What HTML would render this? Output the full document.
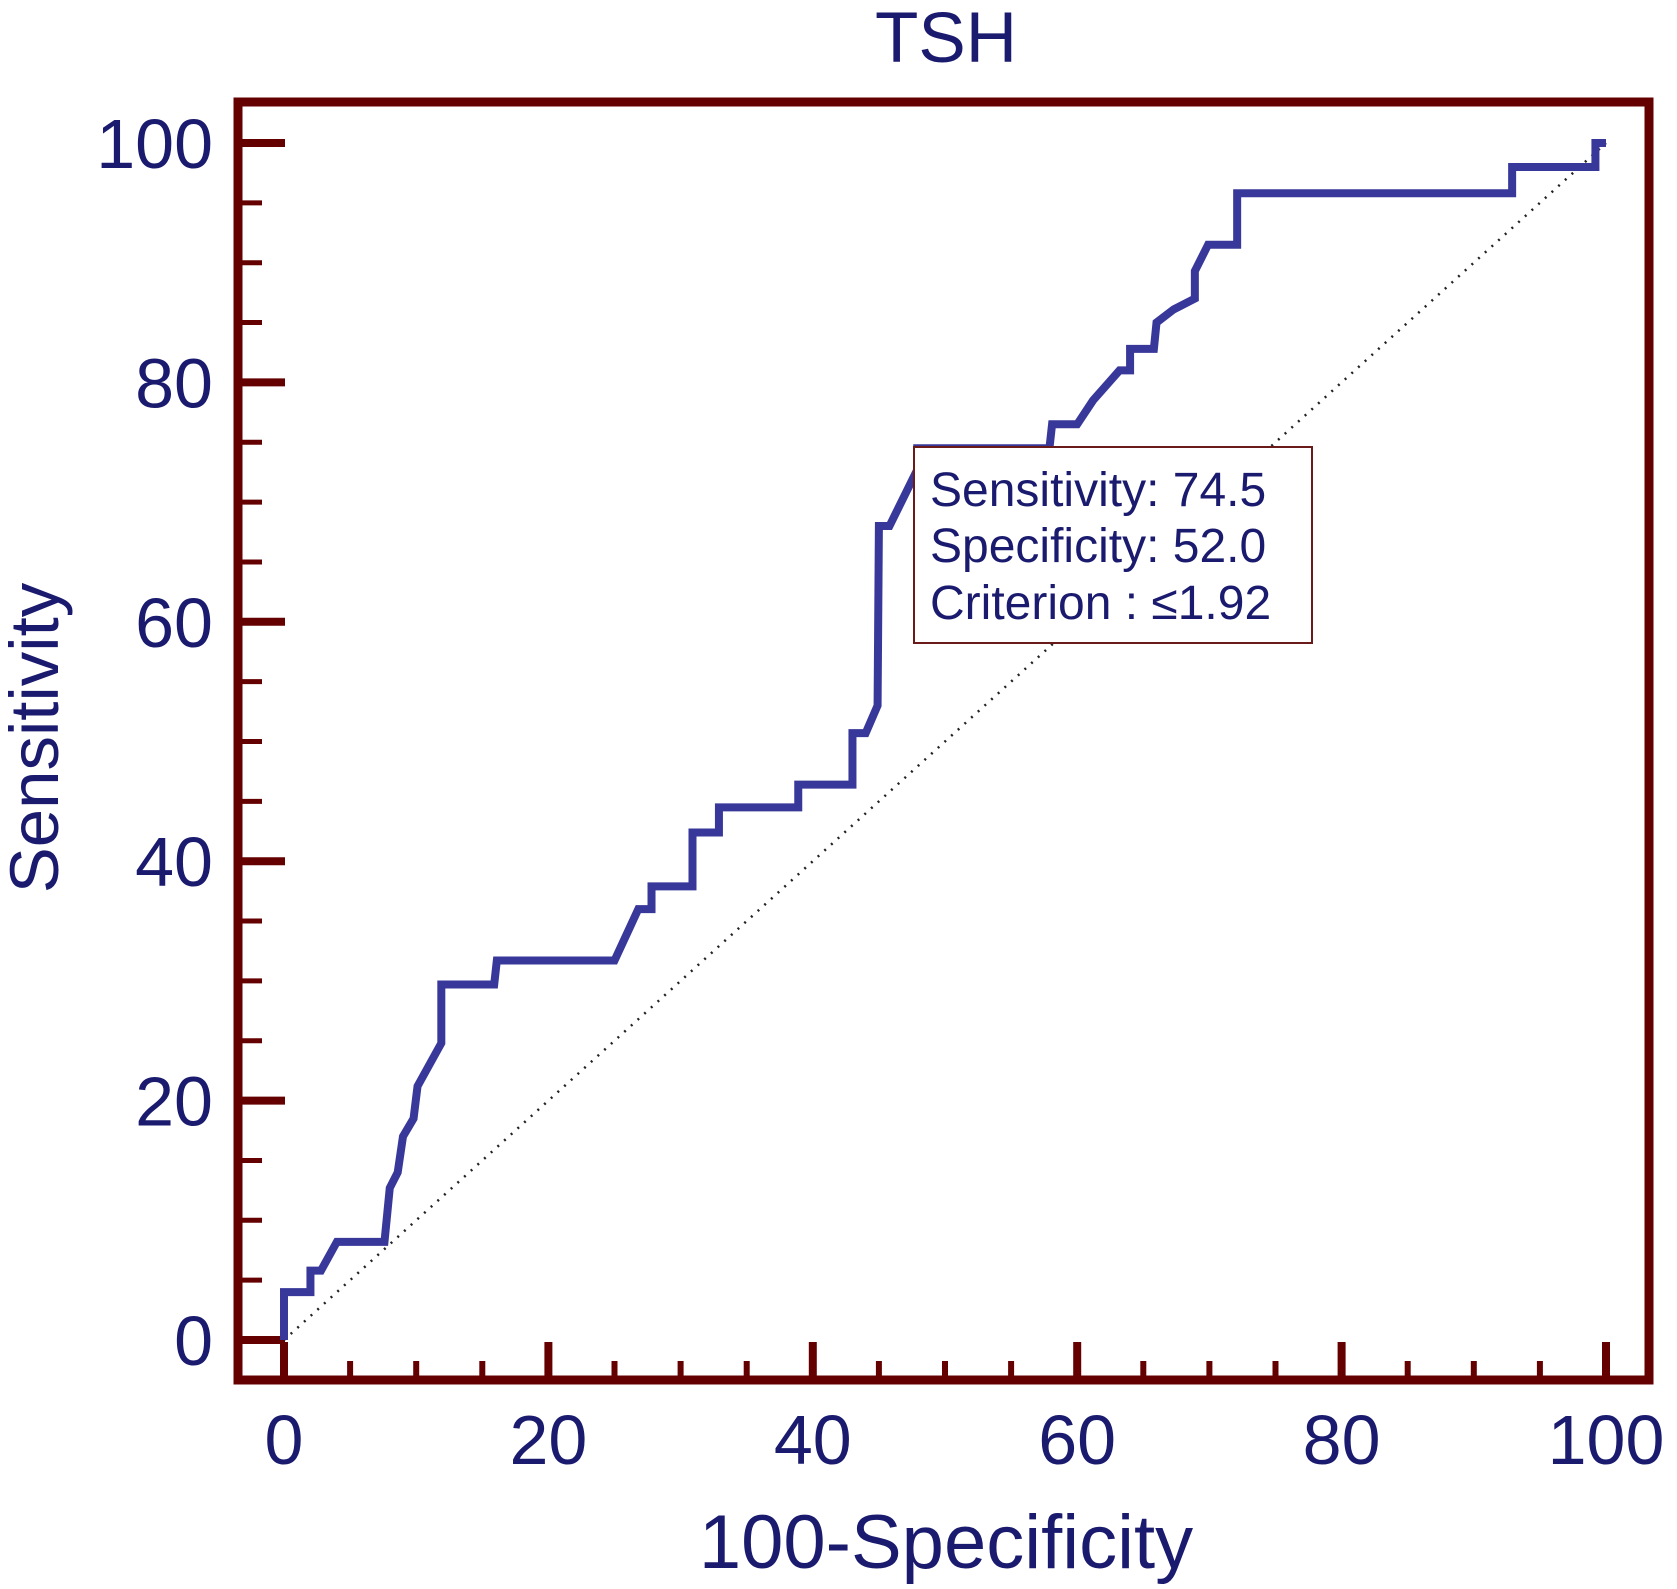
<!DOCTYPE html>
<html><head><meta charset="utf-8"><style>
html,body{margin:0;padding:0;background:#fff;}
svg{display:block;font-family:"Liberation Sans",Arial,sans-serif;}
</style></head><body>
<svg id="chart" width="1677" height="1589" viewBox="0 0 1677 1589" xmlns="http://www.w3.org/2000/svg">
<rect width="1677" height="1589" fill="#fff"/>
<text x="946" y="62" font-size="71" fill="#1a1a6e" text-anchor="middle">TSH</text>
<text x="946" y="1568" font-size="76" fill="#1a1a6e" text-anchor="middle">100-Specificity</text>
<text transform="translate(58,738) rotate(-90)" font-size="69" fill="#1a1a6e" text-anchor="middle">Sensitivity</text>
<g id="axes"></g>
<g id="plot"></g>
<g>
<rect x="914" y="447" width="398" height="196" fill="#fff" stroke="#6b1a1a" stroke-width="2"/>
<text x="930" y="506" font-size="48" fill="#1a1a6e">Sensitivity: 74.5</text>
<text x="930" y="562" font-size="48" fill="#1a1a6e">Specificity: 52.0</text>
<text x="930" y="619" font-size="48" fill="#1a1a6e">Criterion : ≤1.92</text>
</g>
</svg>
<script>
const fpr = [0,0,2.0,2.0,2.8,4.0,7.6,8.0,8.6,9.0,9.8,10.1,11.9,11.9,15.9,16.1,25.0,26.8,27.8,27.8,30.9,30.9,32.9,32.9,38.9,38.9,43.0,43.0,44.0,44.9,45.0,45.8,47.9,47.9,57.9,58.1,60.0,61.2,63.2,64.0,64.0,65.8,66.0,67.3,68.9,68.9,69.9,72.1,72.1,92.9,92.9,99.2,99.2,100];
const tpr = [0,4.0,4.0,5.8,5.8,8.2,8.2,12.7,14.0,17.0,18.5,21.2,24.8,29.7,29.7,31.7,31.7,36.0,36.0,37.9,37.9,42.4,42.4,44.5,44.5,46.4,46.4,50.7,50.7,53.0,68.0,68.0,72.7,74.5,74.5,76.5,76.5,78.5,81.0,81.0,82.8,82.8,85.0,86.1,87.0,89.3,91.5,91.5,95.8,95.8,98.0,98.0,100,100];
const xTicks = [0,20,40,60,80,100];
const yTicks = [0,20,40,60,80,100];
const NS="http://www.w3.org/2000/svg";
const X = v => 284 + v*13.22;
const Y = v => 1340 - v*11.97;
const axes=document.getElementById('axes'), plot=document.getElementById('plot');
function mk(tag, attrs, parent){const e=document.createElementNS(NS,tag);for(const k in attrs)e.setAttribute(k,attrs[k]);parent.appendChild(e);return e;}
const C="#650000";
const frame=mk('rect',{x:238,y:102,width:1411,height:1278,fill:'none',stroke:C,'stroke-width':9},axes);


for(let v=0;v<=100;v+=5){
  const major=v%20===0;
  const t=mk('line',{x1:X(v),x2:X(v),y1:1380,y2:major?1342:1361,stroke:C,'stroke-width':major?8:6},axes);
  
  
  const u=mk('line',{x1:238,x2:major?285:262,y1:Y(v),y2:Y(v),stroke:C,'stroke-width':major?8:5},axes);
  
  
}
xTicks.forEach(v=>{const t=mk('text',{x:X(v),y:1464,'font-size':70,fill:'#1a1a6e','text-anchor':'middle'},axes);t.textContent=v;
  
  });
yTicks.forEach(v=>{const t=mk('text',{x:213,y:Y(v)+25,'font-size':70,fill:'#1a1a6e','text-anchor':'end'},axes);t.textContent=v;
  
  });
const diag=mk('line',{x1:X(0),y1:Y(0),x2:X(100),y2:Y(100),stroke:'#222','stroke-width':2.5,'stroke-dasharray':'2 7'},plot);


const roc=mk('polyline',{points:fpr.map((f,i)=>X(f)+','+Y(tpr[i])).join(' '),fill:'none',stroke:'#38389a','stroke-width':8,'stroke-linejoin':'miter'},plot);


</script>
</body></html>
